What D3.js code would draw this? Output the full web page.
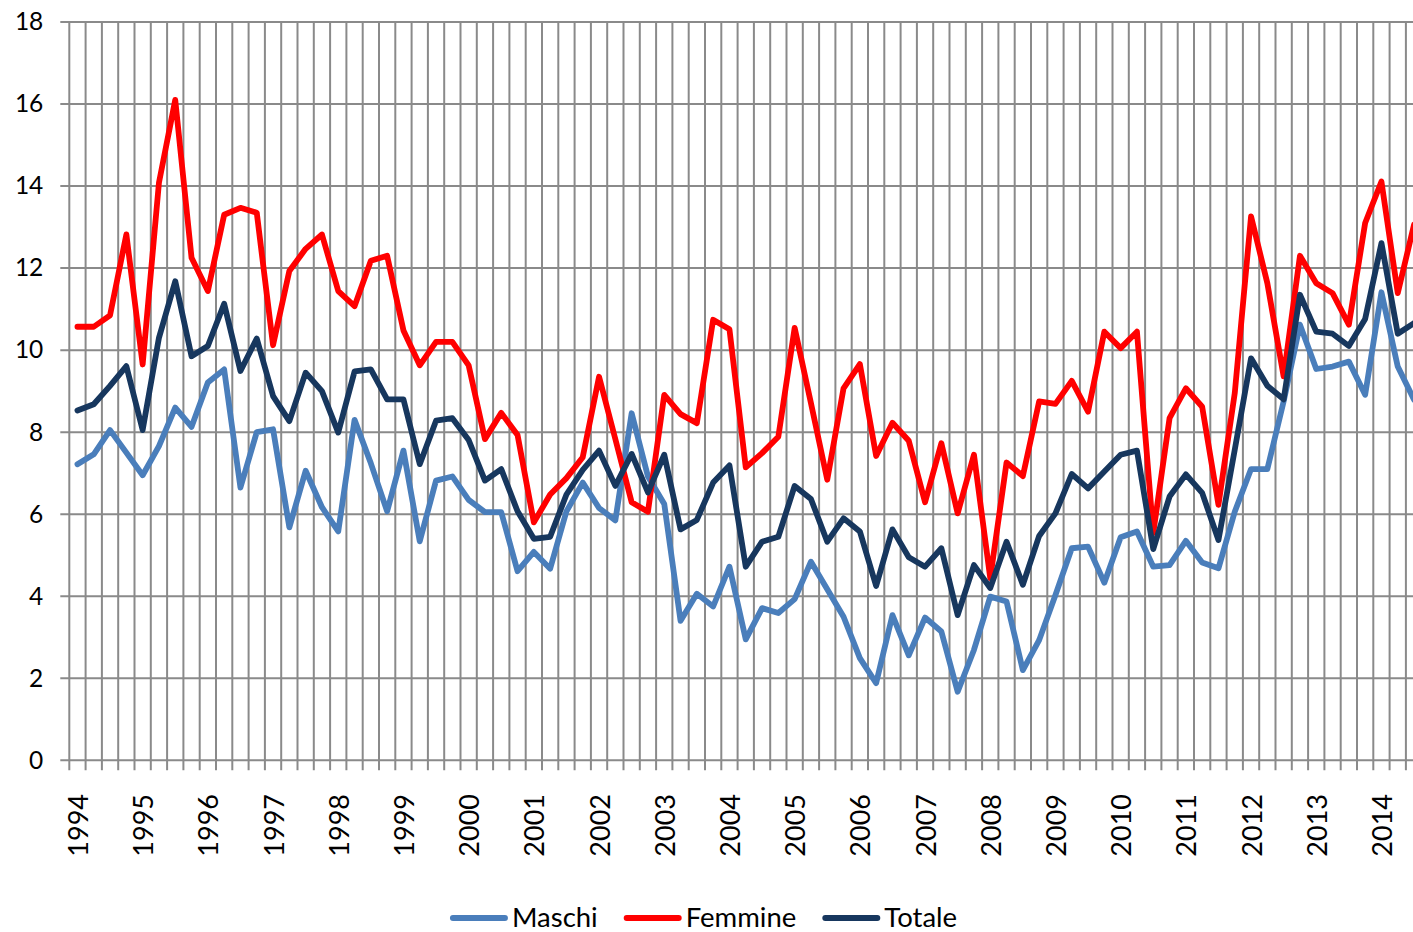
<!DOCTYPE html>
<html>
<head>
<meta charset="utf-8">
<script src="https://cdn.jsdelivr.net/npm/d3@7"></script>
<style>
	body { margin:0; background:#fff; }
	svg { display:block; font-family: Lato, "DejaVu Sans", sans-serif; }
</style>
</head>
<body>
<svg id="chart" width="1413" height="932"></svg>
<script>
// quarterly values, 1994 Q1 -> 2014 Q3
var maschi = [7.22,7.46,8.05,7.5,6.95,7.66,8.6,8.13,9.21,9.53,6.65,8.0,8.07,5.68,7.06,6.17,5.58,8.3,7.24,6.07,
	7.55,5.34,6.82,6.92,6.35,6.05,6.05,4.61,5.08,4.67,6.07,6.77,6.15,5.85,8.46,6.92,6.25,3.4,4.06,3.75,
	4.72,2.95,3.71,3.59,3.93,4.84,4.17,3.5,2.49,1.88,3.54,2.56,3.48,3.14,1.67,2.69,3.99,3.87,2.2,2.93,
	4.03,5.17,5.21,4.33,5.44,5.58,4.72,4.76,5.35,4.82,4.68,6.06,7.1,7.1,8.75,10.62,9.54,9.6,9.72,8.91,
	11.41,9.6,8.79];
var femmine = [10.57,10.57,10.85,12.82,9.65,14.08,16.1,12.25,11.44,13.3,13.47,13.35,10.12,11.93,12.47,12.82,11.44,11.07,12.18,12.3,
	10.48,9.63,10.2,10.2,9.63,7.83,8.47,7.93,5.8,6.48,6.88,7.39,9.35,7.83,6.29,6.06,8.91,8.44,8.22,10.74,
	10.51,7.14,7.49,7.89,10.54,8.71,6.84,9.07,9.66,7.42,8.23,7.79,6.29,7.73,6.02,7.45,4.44,7.26,6.93,8.75,
	8.69,9.25,8.5,10.45,10.05,10.45,5.54,8.34,9.07,8.62,6.23,8.95,13.26,11.63,9.36,12.3,11.63,11.39,10.62,13.1,
	14.11,11.39,13.06];
var totale = [8.53,8.68,9.13,9.61,8.05,10.3,11.68,9.85,10.1,11.13,9.49,10.28,8.88,8.27,9.45,9.0,7.99,9.48,9.53,8.8,
	8.8,7.22,8.28,8.34,7.81,6.82,7.1,6.07,5.4,5.45,6.48,7.08,7.55,6.69,7.47,6.53,7.45,5.63,5.86,6.77,
	7.19,4.72,5.33,5.45,6.69,6.37,5.33,5.9,5.58,4.25,5.63,4.95,4.72,5.17,3.54,4.76,4.2,5.33,4.28,5.47,
	6.02,6.98,6.63,7.04,7.45,7.55,5.15,6.43,6.97,6.52,5.37,7.57,9.8,9.13,8.8,11.35,10.45,10.4,10.1,10.76,
	12.61,10.4,10.66];
var years = d3.range(1994, 2015);
var yTicks = [0,2,4,6,8,10,12,14,16,18];
var seriesNames = ['Maschi','Femmine','Totale'];
var seriesColors = ['#4a7ebb','#ff0000','#17375e'];

var series = [maschi, femmine, totale].map(function(v,i){
	return {name: seriesNames[i], color: seriesColors[i], values: v};
});

var svg = d3.select('#chart');
var nCat = maschi.length;
var plotLeft = 69.3, step = 16.3;
var plotTop = 22, plotBottom = 760.3; // "top" is taken by window.top

// category boundaries (gridlines) and centres (points)
var x = d3.scaleLinear().domain([0, nCat]).range([plotLeft, plotLeft + nCat*step]);
var y = d3.scaleLinear().domain([0, 18]).range([plotBottom, plotTop]);
var gridColor = '#8a8a8a';

// horizontal grid
svg.append('g').selectAll('line').data(yTicks).enter()
	.append('line')
	.attr('x1', plotLeft - 9).attr('x2', x(nCat))
	.attr('y1', function(d){return y(d)}).attr('y2', function(d){return y(d)})
	.attr('stroke', gridColor).attr('stroke-width', 2);

// vertical grid, with the small ticks under the axis
svg.append('g').selectAll('line').data(d3.range(nCat + 1)).enter()
	.append('line')
	.attr('x1', function(d){return x(d)}).attr('x2', function(d){return x(d)})
	.attr('y1', plotTop).attr('y2', plotBottom + 10)
	.attr('stroke', gridColor).attr('stroke-width', 2);

// y labels
var yAxis = svg.append('g')
	.attr('transform', 'translate(' + plotLeft + ',0)')
	.call(d3.axisLeft(y).tickValues(yTicks).tickSize(0).tickPadding(26));
yAxis.select('.domain').remove();
yAxis.selectAll('text').style('font-size', '24.5px').style('font-family', 'Lato').attr('fill', '#000');

// year labels, rotated
svg.append('g').selectAll('text').data(years).enter()
	.append('text')
	.attr('transform', function(d,i){return 'translate(' + (x(i*4 + 0.5) + 1) + ',794) rotate(-90)'})
	.attr('text-anchor', 'end')
	.attr('dy', '0.35em')
	.style('font-size', '27px')
	.text(function(d){return d});

// the lines
var line = d3.line()
	.x(function(d,i){return x(i + 0.5)})
	.y(function(d){return y(d)});

svg.append('defs').append('clipPath').attr('id', 'plotClip')
	.append('rect').attr('x', plotLeft).attr('y', 0).attr('width', 1413 - plotLeft).attr('height', 932);

svg.append('g').attr('clip-path', 'url(#plotClip)')
	.selectAll('path').data(series).enter()
	.append('path')
	.attr('d', function(d){return line(d.values)})
	.attr('fill', 'none')
	.attr('stroke', function(d){return d.color})
	.attr('stroke-width', 5.8)
	.attr('stroke-linejoin', 'round')
	.attr('stroke-linecap', 'round');

// legend, laid out from the text widths and centred
var legend = svg.append('g');
var items = legend.selectAll('g').data(series).enter().append('g');
items.append('line')
	.attr('x1', 0).attr('x2', 52).attr('y1', 918).attr('y2', 918)
	.attr('stroke', function(d){return d.color})
	.attr('stroke-width', 6)
	.attr('stroke-linecap', 'round');
items.append('text')
	.attr('x', 59).attr('y', 927)
	.style('font-size', '27.5px')
	.text(function(d){return d.name});
var pos = 0;
items.each(function(){
	var w = 59 + d3.select(this).select('text').node().getComputedTextLength();
	d3.select(this).attr('transform', 'translate(' + pos + ',0)');
	pos += w + 29;
});
var total = pos - 29;
legend.attr('transform', 'translate(' + (705 - total/2) + ',0)');
</script>
</body>
</html>
